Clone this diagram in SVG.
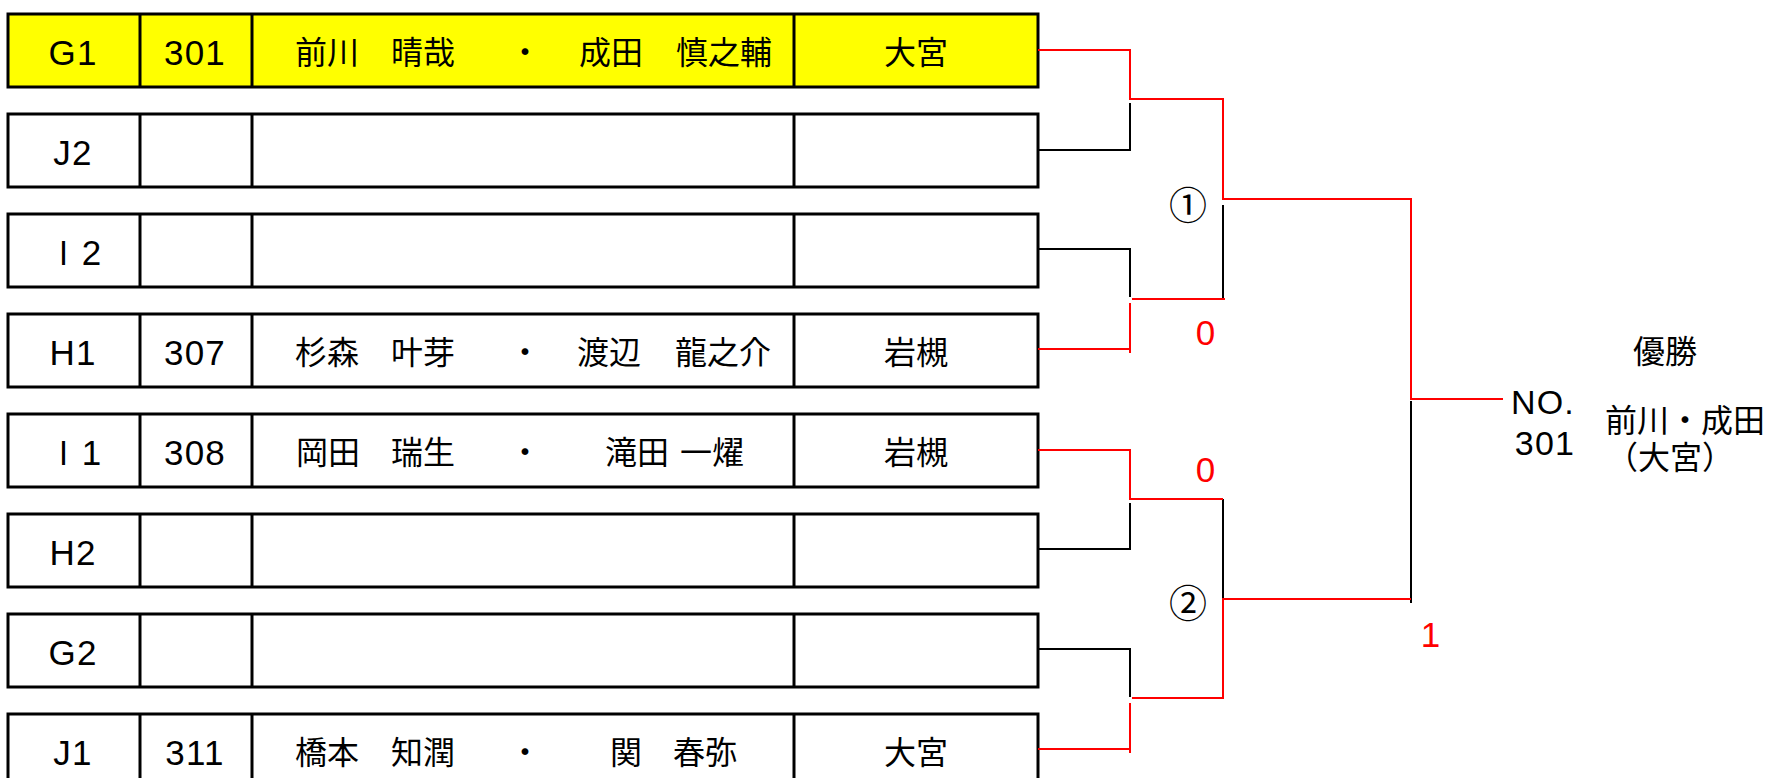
<svg xmlns="http://www.w3.org/2000/svg" width="1766" height="778" viewBox="0 0 1766 778">
<style>
.cell{fill:#fff;stroke:#000;stroke-width:3}
.hl{fill:#ffff00}
.div{stroke:#000;stroke-width:3}
.lat{font-family:"Liberation Sans",Arial,sans-serif;font-size:35px;letter-spacing:1.2px;fill:#000;dominant-baseline:central;text-anchor:middle}
.cjk{font-family:"Noto Sans CJK JP","Noto Sans CJK SC",sans-serif;font-size:32px;fill:#000;dominant-baseline:central}
.num{font-size:38px}
.mid{text-anchor:middle}
.red{fill:#ff0000}
.wl{fill:none;stroke:#ff0000;stroke-width:2}
.ll{fill:none;stroke:#000;stroke-width:2}
</style>
<rect width="1766" height="778" fill="#fff"/>
<defs>
<g id="rowframe">
<rect class="cell" x="8" y="0" width="1030" height="73"/>
<line class="div" x1="140" y1="0" x2="140" y2="73"/>
<line class="div" x1="252" y1="0" x2="252" y2="73"/>
<line class="div" x1="794" y1="0" x2="794" y2="73"/>
</g>
</defs>

<g id="row-G1">
<rect class="cell hl" x="8" y="14" width="1030" height="73"/>
<line class="div" x1="140" y1="14" x2="140" y2="87"/>
<line class="div" x1="252" y1="14" x2="252" y2="87"/>
<line class="div" x1="794" y1="14" x2="794" y2="87"/>
<text class="lat" x="73" y="52">G1</text>
<text class="lat" x="195" y="52">301</text>
<text class="cjk" y="50"><tspan x="295">前川　</tspan><tspan x="391">晴哉　</tspan><tspan x="509">・　</tspan><tspan x="579">成田　</tspan><tspan x="676">慎之輔</tspan></text>
<text class="cjk mid" x="916" y="50">大宮</text>
</g>

<g id="row-J2">
<use href="#rowframe" y="114"/>
<text class="lat" x="73" y="152">J2</text>
</g>

<g id="row-I2">
<use href="#rowframe" y="214"/>
<text class="lat" x="74" y="252">Ｉ2</text>
</g>

<g id="row-H1">
<use href="#rowframe" y="314"/>
<text class="lat" x="73" y="352">H1</text>
<text class="lat" x="195" y="352">307</text>
<text class="cjk" y="350"><tspan x="295">杉森　</tspan><tspan x="391">叶芽　</tspan><tspan x="509">・　</tspan><tspan x="577">渡辺　</tspan><tspan x="675">龍之介</tspan></text>
<text class="cjk mid" x="916" y="350">岩槻</text>
</g>

<g id="row-I1">
<use href="#rowframe" y="414"/>
<text class="lat" x="74" y="452">Ｉ1</text>
<text class="lat" x="195" y="452">308</text>
<text class="cjk" y="450"><tspan x="296">岡田　</tspan><tspan x="391">瑞生　</tspan><tspan x="509">・　</tspan><tspan x="605">滝田 </tspan><tspan x="680">一燿</tspan></text>
<text class="cjk mid" x="916" y="450">岩槻</text>
</g>

<g id="row-H2">
<use href="#rowframe" y="514"/>
<text class="lat" x="73" y="552">H2</text>
</g>

<g id="row-G2">
<use href="#rowframe" y="614"/>
<text class="lat" x="73" y="652">G2</text>
</g>

<g id="row-J1">
<use href="#rowframe" y="714"/>
<text class="lat" x="73" y="752">J1</text>
<text class="lat" x="195" y="752">311</text>
<text class="cjk" y="750"><tspan x="295">橋本　</tspan><tspan x="391">知潤　</tspan><tspan x="509">・　</tspan><tspan x="610">関　</tspan><tspan x="673">春弥</tspan></text>
<text class="cjk mid" x="916" y="750">大宮</text>
</g>

<g id="connectors">
<path class="ll" d="M1038,150 H1130 V103"/>
<path class="ll" d="M1038,249 H1130 V297"/>
<path class="ll" d="M1223,205 V299"/>
<path class="ll" d="M1038,549 H1130 V503"/>
<path class="ll" d="M1223,499 V599"/>
<path class="ll" d="M1038,649 H1130 V697"/>
<path class="ll" d="M1411,401 V603"/>
<path class="wl" d="M1038,50 H1130 V99 H1223 V199 H1411 V399 H1503"/>
<path class="wl" d="M1038,349 H1130 M1130,353 V303 M1132,299 H1225"/>
<path class="wl" d="M1038,450 H1130 V499 H1223"/>
<path class="wl" d="M1038,749 H1130 M1130,753 V703 M1132,698 H1223 V599 H1411"/>
</g>

<g id="match-labels">
<text class="cjk mid num" x="1188" y="202">①</text>
<text class="cjk mid num" x="1188" y="600">②</text>
<text class="lat red" x="1206" y="332">0</text>
<text class="lat red" x="1206" y="469">0</text>
<text class="lat red" x="1431" y="634">1</text>
</g>

<g id="winner">
<text class="lat" style="font-size:34px" x="1543" y="402">NO.</text>
<text class="lat" style="font-size:34px" x="1545" y="443">301</text>
<text class="cjk mid" x="1665" y="349">優勝</text>
<text class="cjk mid" x="1685" y="418">前川・成田</text>
<text class="cjk mid" x="1670" y="455">（大宮）</text>
</g>
</svg>
